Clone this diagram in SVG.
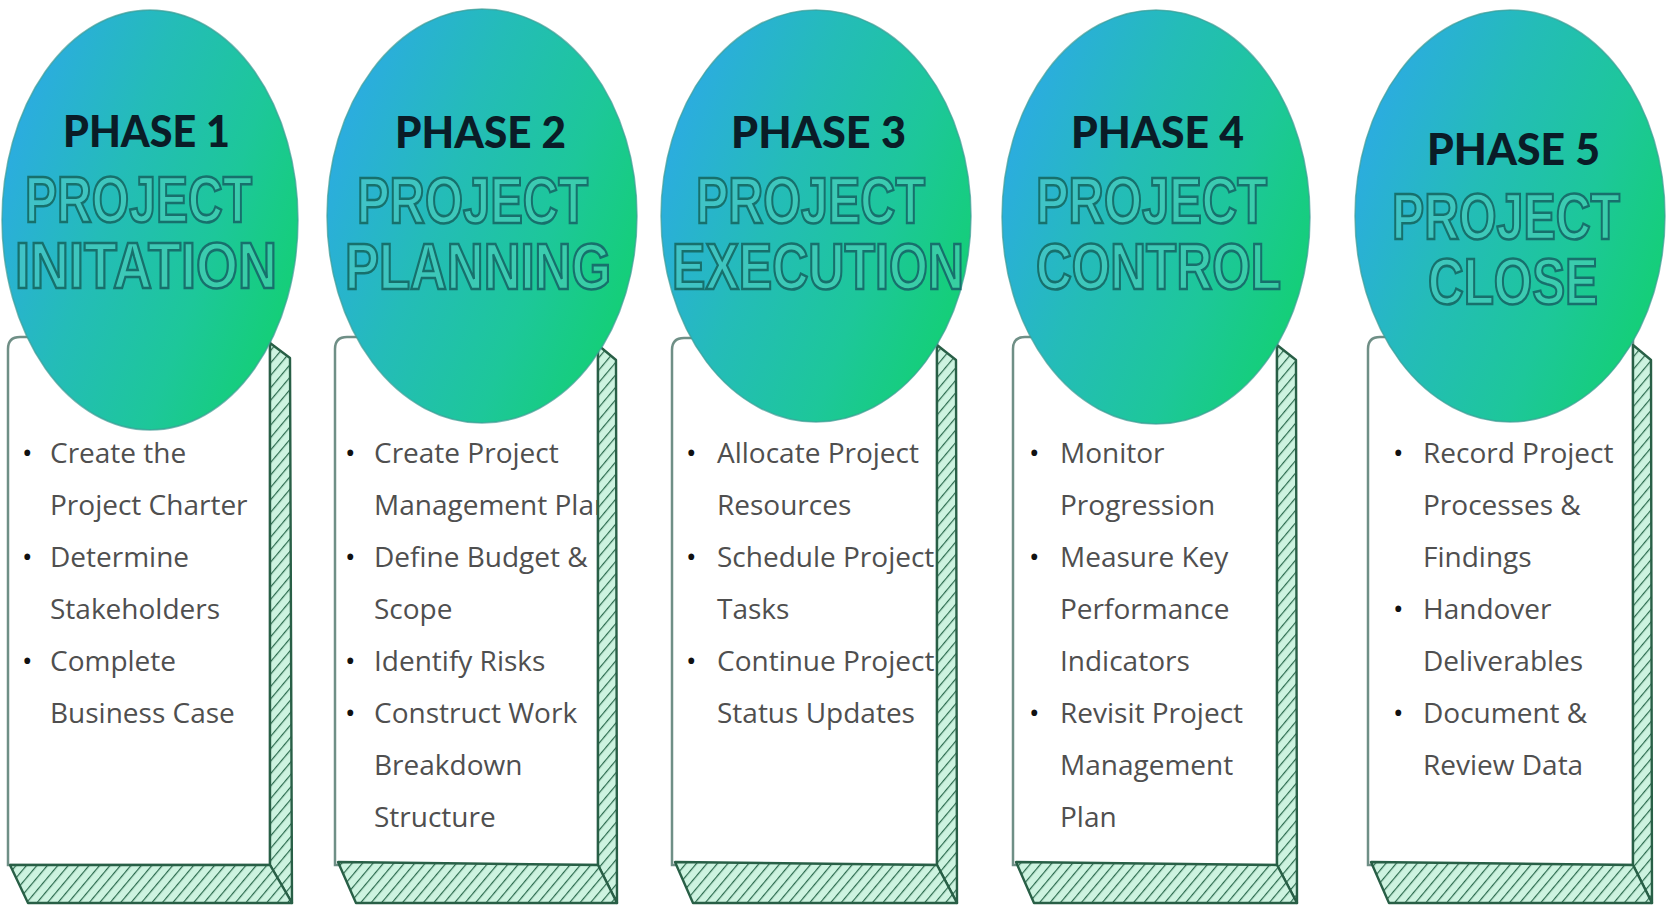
<svg xmlns="http://www.w3.org/2000/svg" width="1667" height="906" viewBox="0 0 1667 906">
<defs>
<linearGradient id="bub" x1="0.05" y1="0.3" x2="0.95" y2="0.75">
<stop offset="0" stop-color="#2badde"/>
<stop offset="0.35" stop-color="#24bcb8"/>
<stop offset="0.7" stop-color="#1dc79a"/>
<stop offset="1" stop-color="#14cf77"/>
</linearGradient>
<pattern id="hatch" width="8" height="8" patternUnits="userSpaceOnUse" patternTransform="rotate(40)">
<rect width="8" height="8" fill="#cdf3e0"/>
<line x1="0" y1="0" x2="0" y2="8" stroke="#2a6a4d" stroke-width="2.4"/>
</pattern>
</defs>
<style>
.front{fill:#ffffff;stroke:#6f8f86;stroke-width:2.5}
.ext{fill:url(#hatch);stroke:#285f46;stroke-width:2.4;stroke-linejoin:round}
.bubble{fill:url(#bub);stroke:#3f9c96;stroke-width:1.5;stroke-opacity:0.7}
.ph{font-family:Lato,"Liberation Sans",sans-serif;font-weight:900;font-size:44px;fill:#0a1c27}
.ttl{font-family:"Liberation Sans",Arial,sans-serif;font-weight:bold;font-size:64px;fill:#53cfc0;fill-opacity:0.55;stroke:#17706c;stroke-width:2.6}
.it{font-family:"Open Sans","Liberation Sans",sans-serif;font-size:28px;fill:#4f4f4f}
.bl{font-family:"Open Sans","Liberation Sans",sans-serif;font-size:28px;fill:#111111}
</style>
<rect width="1667" height="906" fill="#ffffff"/>
<g id="connectors"/>

<g id="phase1">
<path class="front" d="M8,865 L8,349 Q8,337 20,337 L270,337 L270,865 Z"/>
<g>
<text class="bl" x="22" y="463">•</text><text class="it" x="50" y="463">Create the</text>
<text class="it" x="50" y="515">Project Charter</text>
<text class="bl" x="22" y="567">•</text><text class="it" x="50" y="567">Determine</text>
<text class="it" x="50" y="619">Stakeholders</text>
<text class="bl" x="22" y="671">•</text><text class="it" x="50" y="671">Complete</text>
<text class="it" x="50" y="723">Business Case</text>
</g>
<path class="ext" d="M270,343 L290,358 L292,903 L270,865 Z"/>
<path class="ext" d="M10,865 L270,865 L292,903 L28,903 Z"/>
<ellipse class="bubble" cx="150" cy="220" rx="148" ry="210"/>
<text class="ph" x="63" y="147" textLength="167" lengthAdjust="spacingAndGlyphs">PHASE 1</text>
<text class="ttl" x="25" y="222" textLength="227" lengthAdjust="spacingAndGlyphs">PROJECT</text>
<text class="ttl" x="15" y="288" textLength="262" lengthAdjust="spacingAndGlyphs">INITATION</text>
</g>

<g id="phase2">
<path class="front" d="M335,865 L335,349 Q335,337 347,337 L598,337 L598,865 Z"/>
<g>
<text class="bl" x="345" y="463">•</text><text class="it" x="374" y="463">Create Project</text>
<text class="it" x="374" y="515">Management Plan</text>
<text class="bl" x="345" y="567">•</text><text class="it" x="374" y="567">Define Budget &amp;</text>
<text class="it" x="374" y="619">Scope</text>
<text class="bl" x="345" y="671">•</text><text class="it" x="374" y="671">Identify Risks</text>
<text class="bl" x="345" y="723">•</text><text class="it" x="374" y="723">Construct Work</text>
<text class="it" x="374" y="775">Breakdown</text>
<text class="it" x="374" y="827">Structure</text>
</g>
<path class="ext" d="M598,345 L616,360 L617,903 L598,865 Z"/>
<path class="ext" d="M338,862 L598,865 L617,903 L356,903 Z"/>
<ellipse class="bubble" cx="482" cy="216" rx="155" ry="207"/>
<text class="ph" x="395" y="148" textLength="171" lengthAdjust="spacingAndGlyphs">PHASE 2</text>
<text class="ttl" x="357" y="223" textLength="231" lengthAdjust="spacingAndGlyphs">PROJECT</text>
<text class="ttl" x="345" y="289" textLength="266" lengthAdjust="spacingAndGlyphs">PLANNING</text>
</g>

<g id="phase3">
<path class="front" d="M672,865 L672,350 Q672,338 684,338 L937,338 L937,865 Z"/>
<g>
<text class="bl" x="686" y="463">•</text><text class="it" x="717" y="463">Allocate Project</text>
<text class="it" x="717" y="515">Resources</text>
<text class="bl" x="686" y="567">•</text><text class="it" x="717" y="567">Schedule Project</text>
<text class="it" x="717" y="619">Tasks</text>
<text class="bl" x="686" y="671">•</text><text class="it" x="717" y="671">Continue Project</text>
<text class="it" x="717" y="723">Status Updates</text>
</g>
<path class="ext" d="M937,345 L956,360 L957,903 L937,865 Z"/>
<path class="ext" d="M675,862 L937,865 L957,903 L693,903 Z"/>
<ellipse class="bubble" cx="816" cy="216" rx="155" ry="206"/>
<text class="ph" x="731" y="148" textLength="175" lengthAdjust="spacingAndGlyphs">PHASE 3</text>
<text class="ttl" x="696" y="223" textLength="229" lengthAdjust="spacingAndGlyphs">PROJECT</text>
<text class="ttl" x="672" y="289" textLength="292" lengthAdjust="spacingAndGlyphs">EXECUTION</text>
</g>

<g id="phase4">
<path class="front" d="M1013,865 L1013,349 Q1013,337 1025,337 L1277,337 L1277,865 Z"/>
<g>
<text class="bl" x="1029" y="463">•</text><text class="it" x="1060" y="463">Monitor</text>
<text class="it" x="1060" y="515">Progression</text>
<text class="bl" x="1029" y="567">•</text><text class="it" x="1060" y="567">Measure Key</text>
<text class="it" x="1060" y="619">Performance</text>
<text class="it" x="1060" y="671">Indicators</text>
<text class="bl" x="1029" y="723">•</text><text class="it" x="1060" y="723">Revisit Project</text>
<text class="it" x="1060" y="775">Management</text>
<text class="it" x="1060" y="827">Plan</text>
</g>
<path class="ext" d="M1277,345 L1296,360 L1297,903 L1277,865 Z"/>
<path class="ext" d="M1016,862 L1277,865 L1297,903 L1034,903 Z"/>
<ellipse class="bubble" cx="1156" cy="217" rx="154" ry="207"/>
<text class="ph" x="1071" y="148" textLength="173" lengthAdjust="spacingAndGlyphs">PHASE 4</text>
<text class="ttl" x="1036" y="223" textLength="231" lengthAdjust="spacingAndGlyphs">PROJECT</text>
<text class="ttl" x="1036" y="289" textLength="245" lengthAdjust="spacingAndGlyphs">CONTROL</text>
</g>

<g id="phase5">
<path class="front" d="M1368,865 L1368,349 Q1368,337 1380,337 L1633,337 L1633,865 Z"/>
<g>
<text class="bl" x="1393" y="463">•</text><text class="it" x="1423" y="463">Record Project</text>
<text class="it" x="1423" y="515">Processes &amp;</text>
<text class="it" x="1423" y="567">Findings</text>
<text class="bl" x="1393" y="619">•</text><text class="it" x="1423" y="619">Handover</text>
<text class="it" x="1423" y="671">Deliverables</text>
<text class="bl" x="1393" y="723">•</text><text class="it" x="1423" y="723">Document &amp;</text>
<text class="it" x="1423" y="775">Review Data</text>
</g>
<path class="ext" d="M1633,345 L1651,360 L1652,903 L1633,865 Z"/>
<path class="ext" d="M1371,862 L1633,865 L1652,903 L1389,903 Z"/>
<ellipse class="bubble" cx="1510" cy="216" rx="155" ry="206"/>
<text class="ph" x="1427" y="165" textLength="173" lengthAdjust="spacingAndGlyphs">PHASE 5</text>
<text class="ttl" x="1392" y="239" textLength="228" lengthAdjust="spacingAndGlyphs">PROJECT</text>
<text class="ttl" x="1428" y="304" textLength="170" lengthAdjust="spacingAndGlyphs">CLOSE</text>
</g>
</svg>
